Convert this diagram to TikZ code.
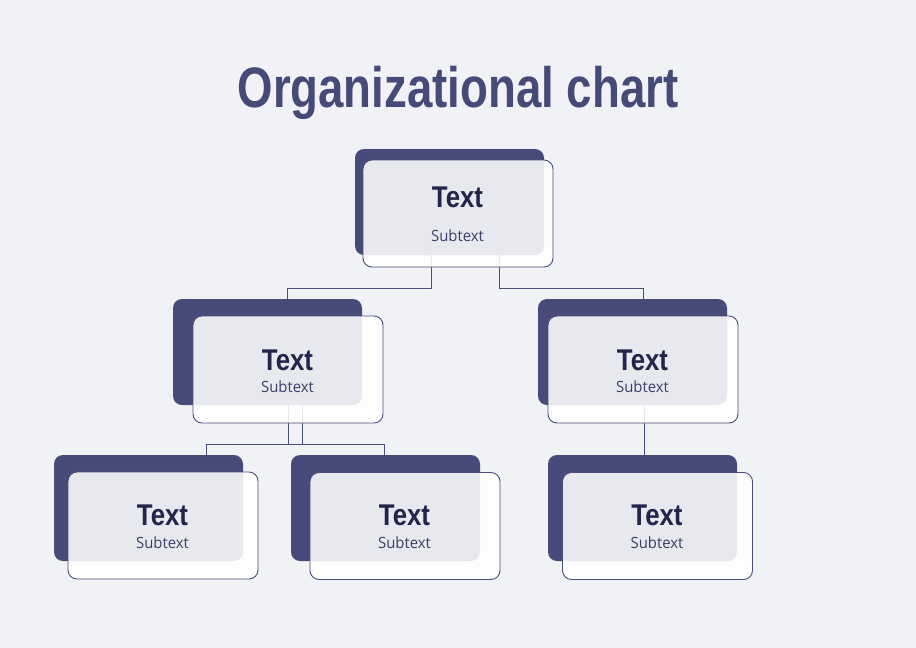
\documentclass[tikz,border=0pt]{standalone}
\usepackage{fontspec}
\newfontfamily\titlefont[FakeStretch=0.8]{Liberation Sans}
\newfontfamily\headfont[FakeStretch=0.86]{Liberation Sans}
\newfontfamily\subfont[FakeStretch=0.96]{Open Sans}
\definecolor{bgc}{HTML}{F1F2F6}
\definecolor{darkc}{HTML}{474B79}
\definecolor{linec}{HTML}{4A4E7C}
\definecolor{headc}{HTML}{23244A}
\definecolor{subc}{HTML}{3C3F66}
\definecolor{titlec}{HTML}{464A78}
\tikzset{
  darkbox/.style={fill=darkc, draw=none, rounded corners=9pt, minimum width=189pt, minimum height=106pt, inner sep=0pt},
  frontbox/.style={fill=white, fill opacity=0.88, draw=linec, line width=0.9pt, draw opacity=1, rounded corners=9pt, minimum width=190pt, minimum height=107pt, inner sep=0pt},
  conn/.style={draw=linec, line width=0.9pt},
  headtxt/.style={font=\headfont\bfseries\fontsize{30}{30}\selectfont, text=headc, anchor=base, inner sep=0pt},
  subtxt/.style={font=\subfont\fontsize{15.5}{16}\selectfont, text=subc, anchor=base, inner sep=0pt},
}
\begin{document}
\begin{tikzpicture}[x=1pt, y=-1pt]
\useasboundingbox[fill=bgc] (0,0) rectangle (916,648);
\node[font=\titlefont\bfseries\fontsize{57}{57}\selectfont, text=titlec, anchor=base, inner sep=0pt] (title) at (458,107) {Organizational chart};
% dark back boxes
\node[darkbox] (dT) at (449.5,202) {};
\node[darkbox] (dML) at (267.5,352) {};
\node[darkbox] (dMR) at (632.5,352) {};
\node[darkbox] (dBL) at (148.5,508) {};
\node[darkbox] (dBM) at (385.5,508) {};
\node[darkbox] (dBR) at (642.5,508) {};
% connector coordinates
\coordinate (t1) at (431,255);
\coordinate (t2) at (499,255);
\coordinate (m1) at (288,405);
\coordinate (m2) at (302,405);
\coordinate (m3) at (644,405);
\draw[conn] (t1) |- (287,288) -- (287,0 |- dML.north);
\draw[conn] (t2) |- (643,288) -- (643,0 |- dMR.north);
\draw[conn] (m2) |- (206,444) -- (206,0 |- dBL.north);
\draw[conn] (m1) |- (384,444) -- (384,0 |- dBM.north);
\draw[conn] (m3) -- (644,0 |- dBR.north);
% front boxes
\node[frontbox] (fT) at (458,213.5) {};
\node[frontbox] (fML) at (288,369.5) {};
\node[frontbox] (fMR) at (643,369.5) {};
\node[frontbox] (fBL) at (163,525.5) {};
\node[frontbox] (fBM) at (405,526) {};
\node[frontbox] (fBR) at (657.5,526) {};
% texts
\node[headtxt] (hT) at (457.5,207) {Text};
\node[subtxt] (sT) at (457.5,241) {Subtext};
\node[headtxt] (hML) at (287.5,370) {Text};
\node[subtxt] (sML) at (287.5,392) {Subtext};
\node[headtxt] (hMR) at (642.5,370) {Text};
\node[subtxt] (sMR) at (642.5,392) {Subtext};
\node[headtxt] (hBL) at (162.5,525) {Text};
\node[subtxt] (sBL) at (162.5,548) {Subtext};
\node[headtxt] (hBM) at (404.5,525) {Text};
\node[subtxt] (sBM) at (404.5,548) {Subtext};
\node[headtxt] (hBR) at (657,525) {Text};
\node[subtxt] (sBR) at (657,548) {Subtext};
\end{tikzpicture}
\end{document}
